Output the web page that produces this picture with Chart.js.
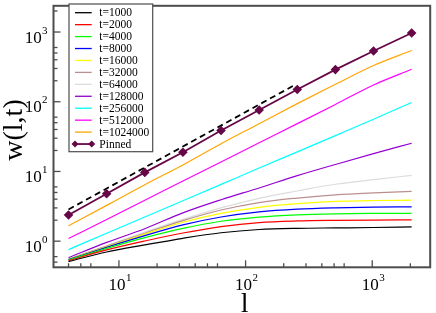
<!DOCTYPE html>
<html lang="en">

<head>
    <meta charset="UTF-8">
    <title>w(l,t)</title>
    <script src="https://cdn.jsdelivr.net/npm/chart.js"></script>
    <style>
        html, body {
            margin: 0;
            padding: 0;
            background: #fff;
        }
        #wrap {
            width: 436px;
            height: 313px;
        }
    </style>
</head>

<body>
    <div id="wrap"><canvas id="myChart" width="436" height="313"></canvas></div>

    <script>
        // system sizes l
        var lSizes = [4, 8, 16, 32, 64, 128, 256, 512, 1024, 2048];

        // w(l,t) for each time
        var w1000 = [0.51, 0.70, 0.884, 1.10, 1.32, 1.47, 1.53, 1.55, 1.57, 1.60];
        var w2000 = [0.526, 0.75, 1.006, 1.31, 1.62, 1.85, 1.95, 1.99, 2.01, 2.02];
        var w4000 = [0.535, 0.79, 1.127, 1.53, 1.93, 2.22, 2.39, 2.47, 2.50, 2.51];
        var w8000 = [0.544, 0.815, 1.20, 1.71, 2.22, 2.63, 2.88, 3.01, 3.08, 3.11];
        var w16000 = [0.55, 0.83, 1.26, 1.87, 2.50, 3.06, 3.45, 3.72, 3.83, 3.87];
        var w32000 = [0.555, 0.85, 1.30, 1.97, 2.80, 3.58, 4.15, 4.62, 4.93, 5.18];
        var w64000 = [0.56, 0.86, 1.35, 2.05, 3.00, 4.12, 5.25, 6.55, 7.63, 8.79];
        var w128000 = [0.58, 0.96, 1.51, 2.55, 3.93, 5.8, 8.7, 12.6, 18.0, 25.4];
        var w256000 = [0.757, 1.30, 2.22, 3.80, 6.52, 11.2, 19.1, 32.7, 56.1, 97.7];
        var w512000 = [1.09, 2.05, 3.87, 7.28, 13.7, 25.8, 48.5, 91.4, 174, 292];
        var w1024000 = [1.66, 3.26, 6.46, 12.4, 25, 48.4, 94, 178, 331, 543];
        var wPinned = [2.38, 4.8, 9.7, 18.9, 38.7, 76, 150, 289, 535, 970];

        // slope 1 guide line
        var guideL = [4, 250];
        var guideW = [2.85, 178];

        var timeLabels = ['t=1000', 't=2000', 't=4000', 't=8000', 't=16000', 't=32000',
            't=64000', 't=128000', 't=256000', 't=512000', 't=1024000'];
        var timeColors = ['#000000', '#ff0000', '#00ff00', '#0000ff', '#ffff00', '#bc8f8f',
            '#dcdcdc', '#9400d3', '#00ffff', '#ff00ff', '#ffa500'];
        var timeSeries = [w1000, w2000, w4000, w8000, w16000, w32000,
            w64000, w128000, w256000, w512000, w1024000];

        // tick values (grace style: majors at decades, minors at 2..6)
        var xMajor = [10, 100, 1000];
        var yMajor = [1, 10, 100, 1000];
        var minorMult = [2, 3, 4, 5, 6];

        var serif = '"Liberation Serif", "DejaVu Serif", serif';

        function toPoints(xs, ys) {
            return xs.map(function (x, i) {
                return { x: x, y: ys[i] };
            });
        }

        var datasets = timeSeries.map(function (s, i) {
            return {
                label: timeLabels[i],
                data: toPoints(lSizes, s),
                borderColor: timeColors[i],
                borderWidth: 1.2,
                pointRadius: 0,
                cubicInterpolationMode: 'monotone',
                fill: false
            };
        });
        datasets.push({
            label: 'Pinned',
            data: toPoints(lSizes, wPinned),
            borderColor: '#670748',
            backgroundColor: '#670748',
            borderWidth: 1.8,
            pointStyle: 'rectRot',
            pointRadius: 3.5,
            fill: false
        });
        datasets.push({
            label: '',
            data: toPoints(guideL, guideW),
            borderColor: '#000000',
            borderWidth: 1.8,
            borderDash: [6, 4],
            pointRadius: 0,
            fill: false
        });

        function minorsFor(scale, majors) {
            var out = [];
            var decades = [majors[0] / 10].concat(majors);
            decades.forEach(function (d) {
                minorMult.forEach(function (m) {
                    var v = d * m;
                    if (v > scale.min * 1.02 && v < scale.max * 0.98) out.push(v);
                });
            });
            return out;
        }

        // frame, inward ticks, tick labels, titles and legend
        var gracePlugin = {
            id: 'grace',
            afterDraw: function (chart) {
                var ctx = chart.ctx;
                var a = chart.chartArea;
                var xs = chart.scales.x;
                var ys = chart.scales.y;
                ctx.save();

                ctx.strokeStyle = '#4d4d4d';
                ctx.lineWidth = 1.3;
                xMajor.concat(minorsFor(xs, xMajor)).forEach(function (v) {
                    var px = xs.getPixelForValue(v);
                    var len = xMajor.indexOf(v) >= 0 ? 7 : 4;
                    ctx.beginPath();
                    ctx.moveTo(px, a.bottom);
                    ctx.lineTo(px, a.bottom - len);
                    ctx.stroke();
                });
                yMajor.concat(minorsFor(ys, yMajor)).forEach(function (v) {
                    var py = ys.getPixelForValue(v);
                    var len = yMajor.indexOf(v) >= 0 ? 7 : 4;
                    ctx.beginPath();
                    ctx.moveTo(a.left, py);
                    ctx.lineTo(a.left + len, py);
                    ctx.stroke();
                });

                ctx.lineWidth = 2;
                ctx.strokeRect(a.left, a.top, a.right - a.left, a.bottom - a.top);

                // tick labels 10^n
                ctx.fillStyle = '#000';
                ctx.textBaseline = 'alphabetic';
                xMajor.forEach(function (v) {
                    var px = xs.getPixelForValue(v);
                    var e = Math.round(Math.log10(v));
                    ctx.font = '17px ' + serif;
                    ctx.textAlign = 'right';
                    ctx.fillText('10', px + 6.5, 290);
                    ctx.font = '11px ' + serif;
                    ctx.textAlign = 'left';
                    ctx.fillText(String(e), px + 7, 281);
                });
                yMajor.forEach(function (v) {
                    var py = ys.getPixelForValue(v);
                    var e = Math.round(Math.log10(v));
                    ctx.font = '17px ' + serif;
                    ctx.textAlign = 'right';
                    ctx.fillText('10', 41.7, py + 10.7);
                    ctx.font = '11px ' + serif;
                    ctx.textAlign = 'left';
                    ctx.fillText(String(e), 42, py + 1.5);
                });

                // axis titles
                ctx.font = '28px ' + serif;
                ctx.textAlign = 'center';
                ctx.fillText('l', xs.getPixelForValue(100) - 1, 312);
                ctx.save();
                ctx.translate(22, 130);
                ctx.rotate(-Math.PI / 2);
                ctx.fillText('w(l,t)', 0, 0);
                ctx.restore();

                // legend box
                var bx = 69, by = 4, bw = 83.7, bh = 147.7;
                ctx.fillStyle = '#fff';
                ctx.fillRect(bx, by, bw, bh);
                ctx.strokeStyle = '#4d4d4d';
                ctx.lineWidth = 1.2;
                ctx.strokeRect(bx, by, bw, bh);
                ctx.font = '11.5px ' + serif;
                ctx.textAlign = 'left';
                ctx.textBaseline = 'middle';
                var row = 0;
                chart.data.datasets.forEach(function (ds) {
                    if (!ds.label) return;
                    var y = 12.7 + row * 11.94;
                    ctx.strokeStyle = ds.borderColor;
                    ctx.lineWidth = ds.label === 'Pinned' ? 1.8 : 1.3;
                    ctx.beginPath();
                    ctx.moveTo(75, y);
                    ctx.lineTo(91.7, y);
                    ctx.stroke();
                    if (ds.pointRadius) {
                        ctx.fillStyle = ds.backgroundColor;
                        [75, 91.7].forEach(function (x) {
                            ctx.beginPath();
                            ctx.moveTo(x, y - 3.5);
                            ctx.lineTo(x + 3.5, y);
                            ctx.lineTo(x, y + 3.5);
                            ctx.lineTo(x - 3.5, y);
                            ctx.closePath();
                            ctx.fill();
                        });
                    }
                    ctx.fillStyle = '#000';
                    ctx.fillText(ds.label, 99.3, y + 0.5);
                    row++;
                });
                ctx.restore();
            }
        };

        var ctx = document.getElementById('myChart').getContext('2d');
        var myChart = new Chart(ctx, {
            type: 'line',
            data: { datasets: datasets },
            options: {
                responsive: false,
                animation: false,
                devicePixelRatio: 1,
                layout: { padding: { left: 0, top: 1, right: 3.7, bottom: 0 } },
                plugins: {
                    legend: { display: false },
                    tooltip: { enabled: false }
                },
                elements: { line: { tension: 0 } },
                scales: {
                    x: {
                        type: 'logarithmic',
                        min: 3.043,
                        max: 2869,
                        grid: { display: false },
                        border: { display: false },
                        ticks: { display: false },
                        afterFit: function (s) { s.height = 45.7; }
                    },
                    y: {
                        type: 'logarithmic',
                        min: 0.422,
                        max: 2377,
                        grid: { display: false },
                        border: { display: false },
                        ticks: { display: false },
                        afterFit: function (s) { s.width = 53.5; }
                    }
                }
            },
            plugins: [gracePlugin]
        });
    </script>
</body>

</html>
